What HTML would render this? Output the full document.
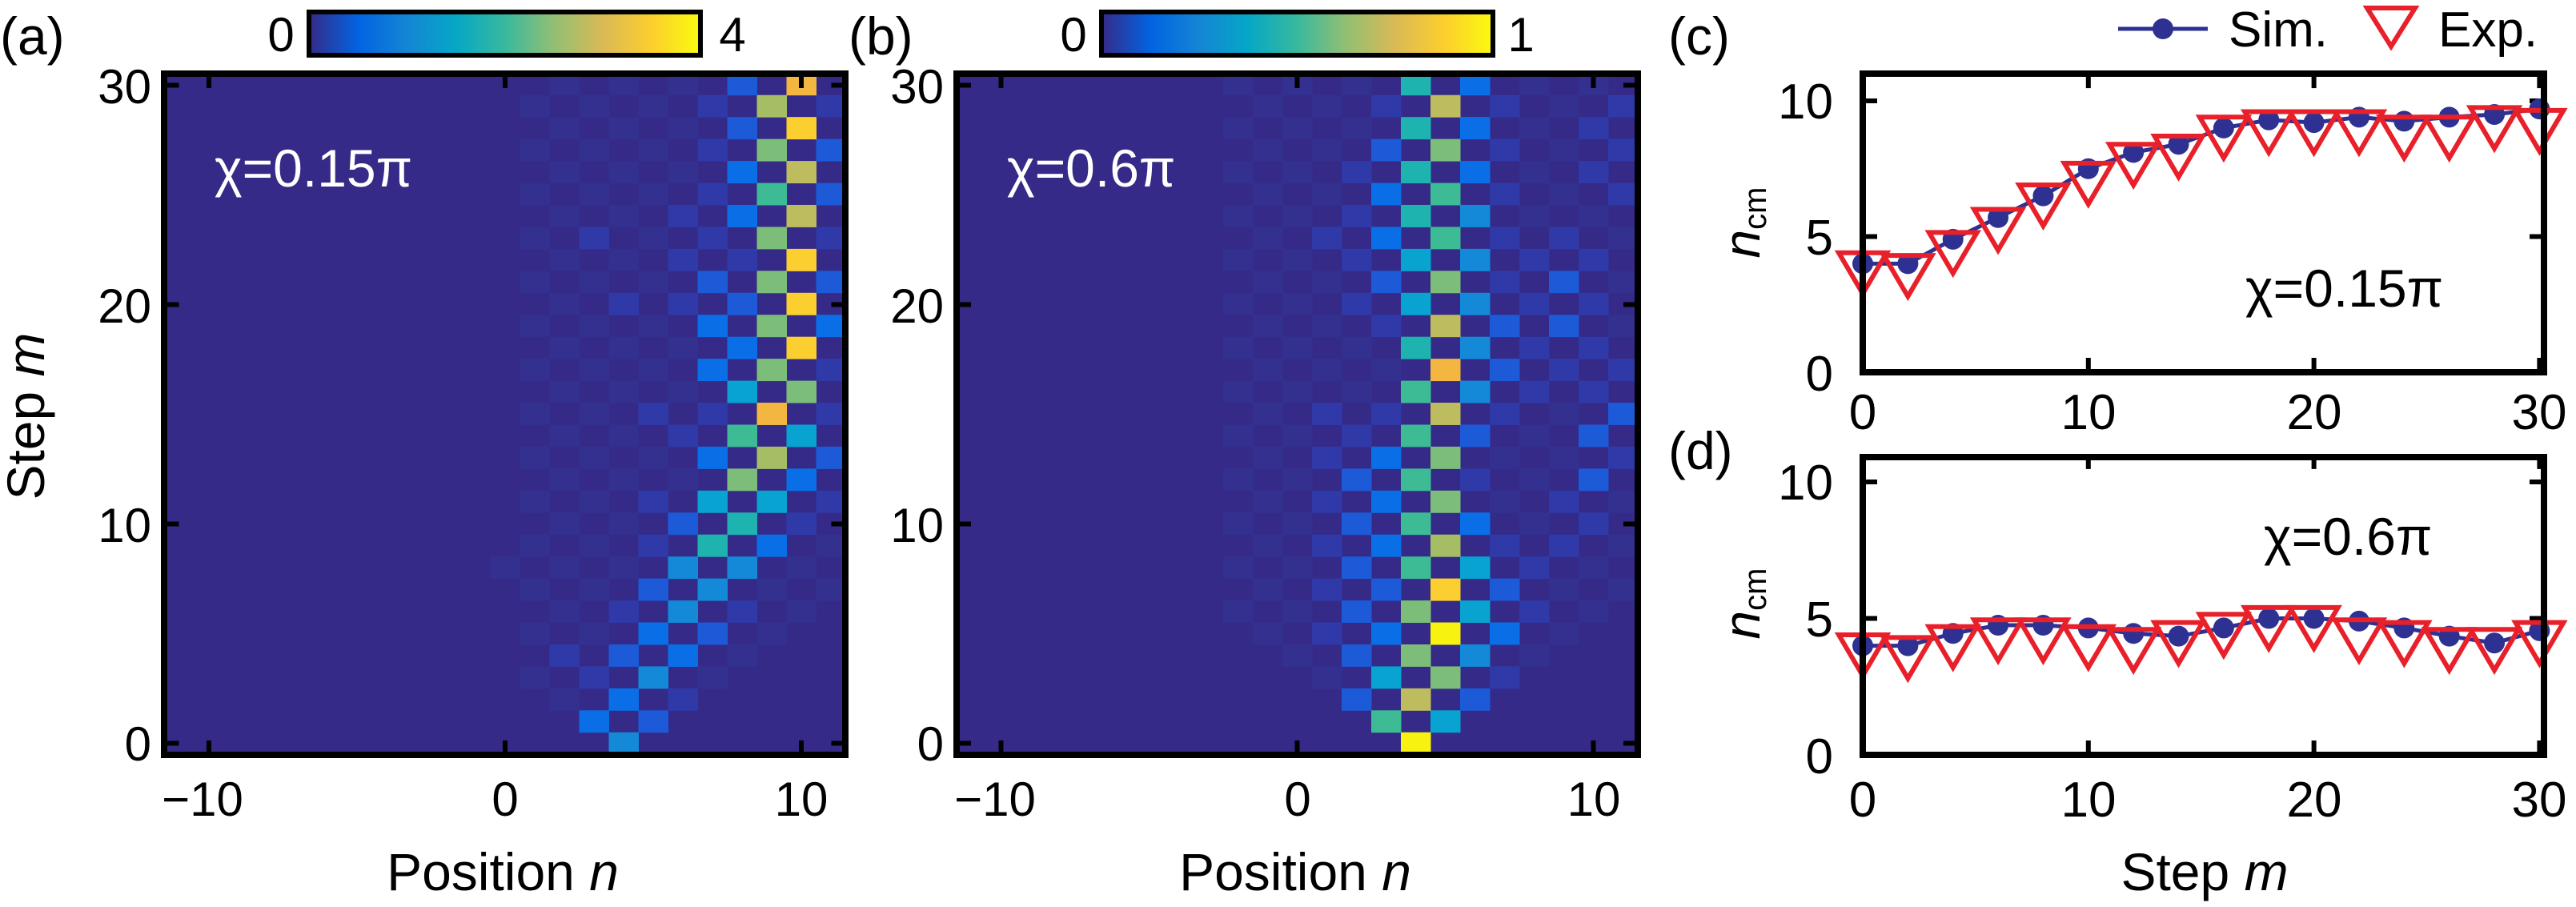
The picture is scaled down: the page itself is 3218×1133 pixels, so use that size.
<!DOCTYPE html>
<html><head><meta charset="utf-8">
<style>
html,body{margin:0;padding:0;background:#fff;}
svg{display:block;}
text{font-family:"Liberation Sans",Arial,sans-serif;fill:#000;}
.w{fill:#fff;}
</style></head>
<body>
<svg id="s" width="3218" height="1133" viewBox="0 0 3218 1133" xmlns="http://www.w3.org/2000/svg">
<defs>
<linearGradient id="par" x1="0" x2="1" y1="0" y2="0">
<stop offset="0" stop-color="#352a87"/><stop offset="0.125" stop-color="#0363e1"/>
<stop offset="0.25" stop-color="#1485d4"/><stop offset="0.375" stop-color="#06a7c6"/>
<stop offset="0.5" stop-color="#38b99e"/><stop offset="0.625" stop-color="#92bf73"/>
<stop offset="0.75" stop-color="#d9ba56"/><stop offset="0.875" stop-color="#fcce2e"/>
<stop offset="1" stop-color="#f9fb0e"/></linearGradient>
</defs>
<g id="cells"></g>
<g id="plots"></g>
<rect x="205" y="92" width="851" height="851" fill="none" stroke="#000" stroke-width="8"/>
<rect x="1195" y="92" width="851" height="851" fill="none" stroke="#000" stroke-width="8"/>
<rect x="386" y="15" width="489" height="54" fill="url(#par)" stroke="#000" stroke-width="6"/>
<rect x="1376" y="15" width="489" height="54" fill="url(#par)" stroke="#000" stroke-width="6"/>
<text x="351" y="64" font-size="60" text-anchor="middle">0</text>
<text x="915" y="64" font-size="60" text-anchor="middle">4</text>
<text x="1341" y="64" font-size="60" text-anchor="middle">0</text>
<text x="1900" y="64" font-size="60" text-anchor="middle">1</text>
<text x="0" y="68" font-size="66">(a)</text>
<text x="1060" y="68" font-size="66">(b)</text>
<text x="2084" y="68" font-size="66">(c)</text>
<text x="2084" y="586" font-size="66">(d)</text>
<g font-size="60" text-anchor="end">
<text x="189" y="950">0</text><text x="189" y="677">10</text><text x="189" y="403">20</text><text x="189" y="129">30</text>
<text x="1179" y="950">0</text><text x="1179" y="677">10</text><text x="1179" y="403">20</text><text x="1179" y="129">30</text>
</g>
<g font-size="60" text-anchor="middle">
<text x="253" y="1019">−10</text><text x="631" y="1019">0</text><text x="1001" y="1019">10</text>
<text x="1243" y="1019">−10</text><text x="1621" y="1019">0</text><text x="1991" y="1019">10</text>
</g>
<text x="628" y="1112" font-size="66" text-anchor="middle">Position <tspan font-style="italic">n</tspan></text>
<text x="1618" y="1112" font-size="66" text-anchor="middle">Position <tspan font-style="italic">n</tspan></text>
<text transform="translate(55,520) rotate(-90)" font-size="66" text-anchor="middle">Step <tspan font-style="italic">m</tspan></text>
<text class="w" x="268" y="233" font-size="66">χ=0.15π</text>
<text class="w" x="1258" y="233" font-size="66">χ=0.6π</text>
<rect x="2327" y="92" width="851" height="373" fill="none" stroke="#000" stroke-width="8"/>
<rect x="2327" y="571" width="851" height="372" fill="none" stroke="#000" stroke-width="8"/>
<g font-size="62" text-anchor="end">
<text x="2290" y="148">10</text><text x="2290" y="318">5</text><text x="2290" y="488">0</text>
<text x="2290" y="624">10</text><text x="2290" y="795">5</text><text x="2290" y="966">0</text>
</g>
<g font-size="62" text-anchor="middle">
<text x="2327" y="536">0</text><text x="2609" y="536">10</text><text x="2891" y="536">20</text><text x="3172" y="536">30</text>
<text x="2327" y="1020">0</text><text x="2609" y="1020">10</text><text x="2891" y="1020">20</text><text x="3172" y="1020">30</text>
</g>
<text x="2754" y="1112" font-size="66" text-anchor="middle">Step <tspan font-style="italic">m</tspan></text>
<text transform="translate(2198,278) rotate(-90)" font-size="64" text-anchor="middle"><tspan font-style="italic">n</tspan><tspan font-size="40" dy="8">cm</tspan></text>
<text transform="translate(2198,754) rotate(-90)" font-size="64" text-anchor="middle"><tspan font-style="italic">n</tspan><tspan font-size="40" dy="8">cm</tspan></text>
<text x="2805" y="383" font-size="66">χ=0.15π</text>
<text x="2828" y="693" font-size="66">χ=0.6π</text>
<line x1="2646" y1="36" x2="2758" y2="36" stroke="#2e3192" stroke-width="5"/>
<circle cx="2702" cy="36" r="13" fill="#2e3192"/>
<text x="2784" y="58" font-size="62">Sim.</text>
<polygon points="2957,10 3017,10 2987,58" fill="none" stroke="#e8202a" stroke-width="6"/>
<text x="3046" y="58" font-size="62">Exp.</text>
</svg>
<script>
(function(){
var NS="http://www.w3.org/2000/svg";
var C=["#352a87","#33308f","#3039a8","#1c5ad8","#0a6fe6","#1389d8","#08a3d0","#1fb3b0","#3dbb95","#7dbd7a","#a5be66","#bdbc5f","#f3b640","#fccf30","#f7f20f"];
var cells=document.getElementById("cells");
function rect(x,y,w,h,f){var r=document.createElementNS(NS,"rect");r.setAttribute("x",x);r.setAttribute("y",y);r.setAttribute("width",w);r.setAttribute("height",h);r.setAttribute("fill",f);cells.appendChild(r);}
var A={30:{8:3,10:12},29:{7:2,9:10,11:2},28:{8:3,10:13},27:{7:2,9:9,11:3},26:{8:4,10:11},25:{7:2,9:8,11:3},24:{6:2,8:4,10:11},23:{3:2,7:2,9:9,11:2},22:{6:2,8:2,10:13},21:{7:3,9:9,11:3},20:{4:2,6:2,8:3,10:13},19:{7:4,9:9,11:4},18:{8:4,10:13},17:{7:4,9:9,11:2},16:{8:6,10:9},15:{5:2,7:2,9:12,11:2},14:{6:2,8:8,10:6},13:{7:4,9:10,11:3},12:{6:1,8:9,10:4},11:{5:2,7:6,9:6,11:2},10:{4:1,6:3,8:7,10:2},9:{3:1,5:2,7:7,9:4},8:{0:1,4:1,6:5,8:5},7:{1:1,5:3,7:5,9:1},6:{2:1,4:2,6:5,8:2},5:{1:1,3:1,5:4,7:3},4:{2:2,4:3,6:4},3:{3:2,5:5},2:{2:1,4:4,6:2},1:{3:4,5:3},0:{4:5}};
var B={30:{4:7,6:4},29:{3:2,5:11,7:2,11:2},28:{4:7,6:4,10:2},27:{3:3,5:9,7:2,11:2},26:{2:2,4:7,6:4,10:2},25:{3:4,5:8,7:2,11:2},24:{2:2,4:7,6:5,8:1,10:1},23:{1:2,3:4,5:8,7:2,9:2},22:{2:2,4:6,6:5,8:2,10:2},21:{1:1,3:3,5:9,7:2,9:3},20:{2:2,4:6,6:5,8:2,10:2},19:{3:2,5:11,7:3,9:3},18:{2:1,4:7,6:5,8:2,10:2},17:{3:1,5:12,7:3,9:2,11:2},16:{4:8,6:5,8:2,10:2},15:{1:2,3:2,5:11,7:2,11:3},14:{0:1,2:2,4:8,6:3,10:3},13:{1:2,3:4,5:9,11:2},12:{0:1,2:3,4:8,6:2,10:3},11:{1:2,3:4,5:9,7:1,9:2},10:{0:1,2:3,4:8,6:4,10:2},9:{1:2,3:4,5:10,7:2,9:2},8:{0:1,2:3,4:8,6:6,8:2},7:{1:2,3:3,5:13,7:3,9:1},6:{0:1,2:3,4:9,6:6,8:2},5:{1:2,3:4,5:14,7:4},4:{2:3,4:9,6:5},3:{1:1,3:6,5:9,7:2},2:{2:3,4:11,6:3},1:{3:8,5:6},0:{4:14}};
function heat(D,n0x,faintLo){
 rect(n0x-11.5*37,92,851,851,C[0]);
 for(var m=0;m<=30;m++){for(var n=-11;n<=11;n++){
  var v=(D[m]&&D[m][n]!==undefined)?D[m][n]:-1;
  if(v<0){ if(((n+m)%2+2)%2==0 && Math.abs(n-4)<=m && n>=faintLo) v=1; else continue;}
  if(v==0)continue;
  rect(n0x+(n-0.5)*37,928.5-(m+0.5)*27.45,37.5,27.95,C[v]);
 }}
}
heat(A,631,1);heat(B,1620.5,-2);
var P=document.getElementById("plots");
function el(t,a){var e=document.createElementNS(NS,t);for(var k in a)e.setAttribute(k,a[k]);P.appendChild(e);return e;}
[[631],[1620.5]].forEach(function(o){var c=o[0];
 [-10,0,10].forEach(function(n){var x=c+n*37;el("line",{x1:x,y1:943,x2:x,y2:925,stroke:"#000","stroke-width":6});el("line",{x1:x,y1:92,x2:x,y2:110,stroke:"#000","stroke-width":6});});
 [0,10,20,30].forEach(function(m){var y=928.5-m*27.4;var L=c-11.5*37,R=c+11.5*37;el("line",{x1:L,y1:y,x2:L+18,y2:y,stroke:"#000","stroke-width":6});el("line",{x1:R,y1:y,x2:R-18,y2:y,stroke:"#000","stroke-width":6});});
});
var X=function(m){return 2327+m*28.18;};
function panel(y0,ppu,sim,exp){
 var Y=function(v){return y0-v*ppu;};
 [0,10,20,30].forEach(function(m){el("line",{x1:X(m),y1:y0,x2:X(m),y2:y0-18,stroke:"#000","stroke-width":6});el("line",{x1:X(m),y1:y0-11*ppu,x2:X(m),y2:y0-11*ppu+18,stroke:"#000","stroke-width":6});});
 [0,5,10].forEach(function(v){el("line",{x1:2327,y1:Y(v),x2:2345,y2:Y(v),stroke:"#000","stroke-width":6});el("line",{x1:3178,y1:Y(v),x2:3160,y2:Y(v),stroke:"#000","stroke-width":6});});
 var pts=sim.map(function(v,i){return X(2*i)+","+Y(v);}).join(" ");
 el("polyline",{points:pts,fill:"none",stroke:"#2e3192","stroke-width":5});
 sim.forEach(function(v,i){el("circle",{cx:X(2*i),cy:Y(v),r:13,fill:"#2e3192"});});
 exp.forEach(function(v,i){var x=X(2*i),y=Y(v);el("polygon",{points:(x-30)+","+(y-17)+" "+(x+30)+","+(y-17)+" "+x+","+(y+34),fill:"none",stroke:"#e8202a","stroke-width":6});});
}
panel(465,33.9,[4.0,4.0,4.9,5.7,6.5,7.5,8.1,8.4,9.0,9.3,9.2,9.4,9.25,9.4,9.5,9.7],[3.9,3.8,4.65,5.5,6.4,7.2,7.9,8.2,8.9,9.1,9.1,9.1,8.9,8.9,9.25,9.15]);
panel(943,34.1,[4.0,4.0,4.45,4.75,4.75,4.65,4.45,4.35,4.65,5.0,5.0,4.9,4.65,4.35,4.1,4.55],[3.9,3.8,4.2,4.45,4.45,4.2,4.1,4.35,4.65,4.9,4.9,4.45,4.35,4.1,4.1,4.35]);
})();
</script>
</body></html>
